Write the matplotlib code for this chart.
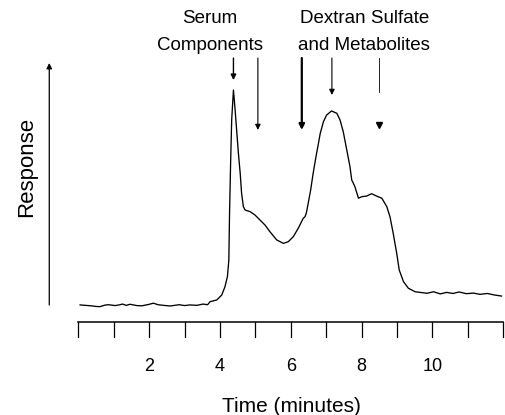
import matplotlib
matplotlib.use("Agg")
import matplotlib.pyplot as plt

plt.rcParams['font.family'] = ['Liberation Sans', 'DejaVu Sans']

# chromatogram trace: time (min) vs response (arbitrary units, main peak = 100)
time_min = [0.05, 0.20, 0.35, 0.50, 0.61, 0.75, 0.85, 1.04, 1.15, 1.25, 1.35, 1.46, 1.65,
            1.80, 1.98, 2.12, 2.25, 2.35, 2.59, 2.85, 3.00, 3.15, 3.35, 3.52, 3.65,
            3.72, 3.91, 4.05, 4.14, 4.21, 4.25, 4.27, 4.30, 4.33, 4.38,
            4.42, 4.47, 4.52, 4.57, 4.61, 4.66, 4.71, 4.85, 4.99, 5.13, 5.27, 5.41,
            5.60, 5.79, 5.93, 6.07, 6.21, 6.35, 6.40, 6.44, 6.49, 6.56, 6.63, 6.71,
            6.78, 6.83, 6.92, 7.01, 7.15, 7.30, 7.39, 7.48, 7.58, 7.67, 7.72, 7.76,
            7.81, 7.91, 8.00, 8.14, 8.28, 8.42, 8.57, 8.71, 8.80, 8.89, 8.99, 9.06,
            9.18, 9.32, 9.51, 9.65, 9.85, 10.03, 10.22, 10.40, 10.58, 10.75, 10.96,
            11.15, 11.34, 11.55, 11.75, 11.95]
response = [0.5, 0.3, 0.1, -0.2, -0.3, 0.4, 0.6, 0.2, 0.5, 0.9, 0.3, 0.8, 0.2,
            0.1, 0.7, 1.3, 0.6, 0.4, 0.0, 0.6, 0.2, 0.5, 0.3, 0.9, 0.6,
            2.0, 2.8, 5.1, 8.9, 13.6, 21.3, 42.9, 66.1, 86.1, 100.0,
            92.3, 81.5, 70.7, 61.6, 52.2, 46.0, 44.4, 43.7, 42.1, 39.8, 37.5, 34.4,
            30.6, 29.0, 29.8, 32.1, 36.0, 40.6, 41.3, 43.2, 47.5, 53.7, 61.4, 69.1,
            75.3, 79.9, 85.3, 88.4, 90.3, 89.2, 86.1, 80.7, 72.2, 64.5, 58.3, 57.0,
            55.2, 49.9, 50.6, 50.9, 52.0, 50.9, 49.9, 46.0, 41.3, 33.7, 24.4, 16.7,
            11.3, 8.2, 6.6, 6.3, 5.9, 6.6, 5.6, 6.3, 5.8, 6.5, 5.7,
            6.0, 5.4, 5.8, 5.1, 4.6]

# marker arrows (time positions) and their lower ends (response units)
arrow_times = [4.38, 5.07, 6.31, 7.16]
arrow_ends = [104.6, 81.5, 81.5, 97.7]
arrow_widths = [1.0, 0.8, 1.6, 0.8]
broken_arrow_time = 8.50
broken_line_end = 99.0
broken_head_at = 82.4
arrow_top = 114.8

x_ticks = list(range(0, 13))
x_tick_labels = ['2', '4', '6', '8', '10']
x_tick_label_pos = [2, 4, 6, 8, 10]

fig = plt.figure(figsize=(5.05, 4.15), dpi=100)
ax = fig.add_axes([0, 0, 1, 1])
ax.set_xlim(-2.211, 12.047)
ax.set_ylim(-50.46, 141.67)
ax.axis('off')

ax.plot(time_min, response, color='black', lw=0.95, solid_joinstyle='round')

# x axis line and ticks
axis_y, tick_bottom = -7.55, -14.35
ax.plot([0, 12], [axis_y, axis_y], color='black', lw=1.1)
for t in x_ticks:
    ax.plot([t, t], [axis_y, tick_bottom], color='black', lw=0.9)
for t, lab in zip(x_tick_label_pos, x_tick_labels):
    ax.text(t, -27.8, lab, ha='center', va='center', fontsize=13)
ax.text(6.03, -46.3, 'Time (minutes)', ha='center', va='center', fontsize=15)

# y arrow
ax.annotate('', xy=(-0.82, 112.5), xytext=(-0.82, 0.46),
            arrowprops=dict(arrowstyle='-|>', color='black', lw=0.9,
                            mutation_scale=8, shrinkA=0, shrinkB=0))
ax.text(-1.457, 64.5, 'Response', rotation=90, ha='center', va='center', fontsize=16)

# peak marker arrows
for t, e, w in zip(arrow_times, arrow_ends, arrow_widths):
    ax.annotate('', xy=(t, e), xytext=(t, arrow_top),
                arrowprops=dict(arrowstyle='-|>', color='black', lw=w,
                                mutation_scale=8, shrinkA=0, shrinkB=0))
ax.plot([broken_arrow_time, broken_arrow_time], [arrow_top, broken_line_end],
        color='black', lw=0.6)
ax.plot([broken_arrow_time], [broken_head_at + 1.5], marker='v', color='black',
        markersize=4.5, lw=0)

# annotations
ax.text(3.72, 133.3, 'Serum', ha='center', va='center', fontsize=13.5)
ax.text(3.72, 120.8, 'Components', ha='center', va='center', fontsize=13.5)
ax.text(8.07, 133.3, 'Dextran Sulfate', ha='center', va='center', fontsize=13.5)
ax.text(8.07, 120.8, 'and Metabolites', ha='center', va='center', fontsize=13.5)

fig.savefig('out.png', dpi=100)
